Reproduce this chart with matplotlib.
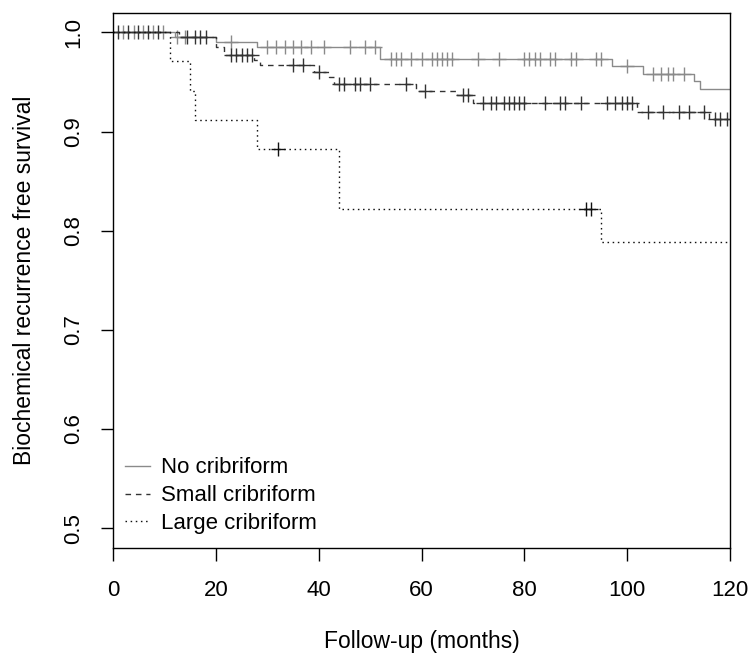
import matplotlib
matplotlib.use("Agg")
import matplotlib.pyplot as plt

plt.rcParams['font.family'] = ['Liberation Sans', 'DejaVu Sans']

# ---- data ----
groups = ["No cribriform", "Small cribriform", "Large cribriform"]

no_times = [0, 12, 20, 28, 52, 97, 103, 113, 114.2, 120]
no_surv = [1.0, 0.995, 0.990, 0.985, 0.973, 0.966, 0.958, 0.951, 0.943, 0.943]
no_cens = [2, 4, 5.8, 7.8, 9.7, 12.5, 14, 23, 30, 31.7, 33.5, 35, 36.5, 38.5, 41, 46, 49, 51,
           54, 55, 56, 58, 60, 62, 63, 64, 65, 66, 71, 75, 80, 81, 82, 83, 85, 86, 89, 90,
           94, 95, 100, 105, 106.5, 108, 109, 111]

sm_times = [0, 12.8, 20, 21.5, 27.5, 28.5, 39, 42, 43, 59, 67, 70, 102, 116, 120]
sm_surv = [1.0, 0.995, 0.985, 0.977, 0.972, 0.967, 0.960, 0.955, 0.948, 0.941, 0.937, 0.929,
           0.920, 0.913, 0.913]
sm_cens = [1, 2.9, 4.9, 6.8, 8.8, 14.4, 16, 17, 18, 23, 24, 25, 26, 27, 35, 37, 40,
           44, 45, 47, 48, 50, 57, 60.7, 68, 69, 72, 73.5, 74.5, 76, 77, 78, 79, 80,
           84, 87, 88, 91, 96, 97.7, 99, 100, 101, 104, 107, 110, 112, 115, 117, 118, 119.5]

lg_times = [0, 11, 15, 16, 28, 44, 95, 120]
lg_surv = [1.0, 0.971, 0.941, 0.912, 0.882, 0.822, 0.789, 0.789]
lg_cens = [32, 92, 93]

x_ticks = [0, 20, 40, 60, 80, 100, 120]
y_ticks = [0.5, 0.6, 0.7, 0.8, 0.9, 1.0]


def surv_at(times, surv, t):
    s = surv[0]
    for ti, si in zip(times, surv):
        if ti <= t:
            s = si
    return s


fig = plt.figure(figsize=(7.5, 6.58), dpi=100)
ax = fig.add_axes([113 / 750, 1 - 548 / 658, (730 - 113) / 750, (548 - 12.5) / 658])

styles = [
    dict(color='#8a8a8a', ls='-'),
    dict(color='#333333', ls=(0, (4, 3.5))),
    dict(color='#111111', ls=(0, (1.1, 2.6))),
]
series = [(no_times, no_surv, no_cens), (sm_times, sm_surv, sm_cens), (lg_times, lg_surv, lg_cens)]

for (times, surv, cens), st, name in zip(series, styles, groups):
    ax.step(times, surv, where='post', color=st['color'], linestyle=st['ls'], lw=1.0,
            label=name)
    cy = [surv_at(times, surv, c) for c in cens]
    ax.plot(cens, cy, linestyle='none', marker='+', ms=10, mew=1.0, color=st['color'])

ax.set_xlim(0, 120)
ax.set_ylim(0.48, 1.02)
ax.set_xticks(x_ticks)
ax.set_xticklabels([str(v) for v in x_ticks])
ax.set_yticks(y_ticks)
ax.set_yticklabels([f"{v:.1f}" for v in y_ticks])
ax.tick_params(axis='both', direction='out', length=9, width=1.0, labelsize=16, pad=14)
ax.tick_params(axis='y', labelrotation=90, pad=12)
for lab in ax.get_yticklabels():
    lab.set_va('center')
for sp in ax.spines.values():
    sp.set_linewidth(1.0)

ax.set_xlabel("Follow-up (months)", fontsize=16.5, labelpad=21)
ax.set_ylabel("Biochemical recurrence free survival", fontsize=16.5, labelpad=19)

leg = ax.legend(loc='lower left', bbox_to_anchor=(-0.0097, -0.0075), frameon=False,
                fontsize=16, handlelength=1.15, handletextpad=0.5, labelspacing=0.31,
                borderaxespad=0.4)

fig.savefig("out.png", dpi=100)
